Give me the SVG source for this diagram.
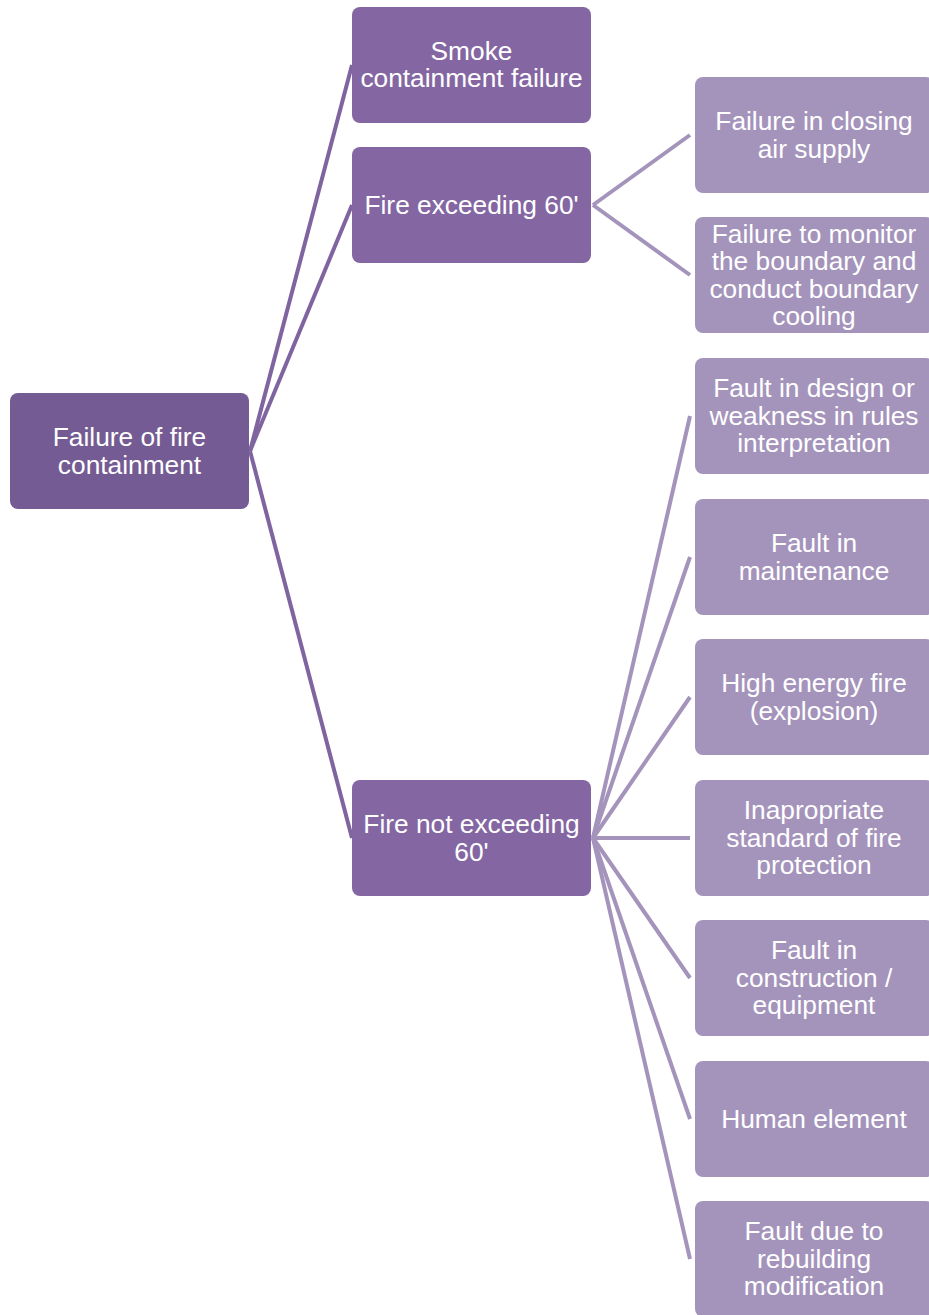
<svg xmlns="http://www.w3.org/2000/svg" width="929" height="1315" viewBox="0 0 929 1315">
<style>
.root{fill:#745B93}
.mid{fill:#8467A2}
.leaf{fill:#A494BB}
.c1{stroke:#7F64A0;stroke-width:4;fill:none;stroke-linecap:butt}
.c2{stroke:#A494BB;stroke-width:4;fill:none;stroke-linecap:butt}
text{font-family:"Liberation Sans",Arial,sans-serif;font-size:26.3px;fill:#ffffff;text-anchor:middle}
</style>
<rect width="929" height="1315" fill="#ffffff"/>
<g id="connectors">
<line class="c1" x1="250" y1="451" x2="352" y2="65"/>
<line class="c1" x1="250" y1="451" x2="352" y2="205"/>
<line class="c1" x1="250" y1="451" x2="352" y2="838"/>
<line class="c2" x1="593" y1="205" x2="690" y2="135"/>
<line class="c2" x1="593" y1="205" x2="690" y2="275"/>
<line class="c2" x1="593" y1="838" x2="690" y2="416"/>
<line class="c2" x1="593" y1="838" x2="690" y2="557"/>
<line class="c2" x1="593" y1="838" x2="690" y2="697"/>
<line class="c2" x1="593" y1="838" x2="690" y2="838"/>
<line class="c2" x1="593" y1="838" x2="690" y2="978"/>
<line class="c2" x1="593" y1="838" x2="690" y2="1119"/>
<line class="c2" x1="593" y1="838" x2="690" y2="1259"/>
</g>
<g id="n-root">
<rect class="root" x="10" y="393" width="239" height="116" rx="8"/>
<text x="129.5" y="446">Failure of fire</text>
<text x="129.5" y="473.5">containment</text>
</g>
<g id="n-smoke">
<rect class="mid" x="352" y="7" width="239" height="116" rx="8"/>
<text x="471.5" y="59.5">Smoke</text>
<text x="471.5" y="87">containment failure</text>
</g>
<g id="n-fire-exceeding">
<rect class="mid" x="352" y="147" width="239" height="116" rx="8"/>
<text x="471.5" y="213.5">Fire exceeding 60'</text>
</g>
<g id="n-fire-not-exceeding">
<rect class="mid" x="352" y="780" width="239" height="116" rx="8"/>
<text x="471.5" y="833">Fire not exceeding</text>
<text x="471.5" y="860.5">60'</text>
</g>
<g id="n-closing-air">
<rect class="leaf" x="695" y="77" width="239" height="116" rx="8"/>
<text x="814" y="130">Failure in closing</text>
<text x="814" y="157.5">air supply</text>
</g>
<g id="n-monitor">
<rect class="leaf" x="695" y="217" width="239" height="116" rx="8"/>
<text x="814" y="242.5">Failure to monitor</text>
<text x="814" y="270">the boundary and</text>
<text x="814" y="297.5">conduct boundary</text>
<text x="814" y="325">cooling</text>
</g>
<g id="n-design">
<rect class="leaf" x="695" y="358" width="239" height="116" rx="8"/>
<text x="814" y="397">Fault in design or</text>
<text x="814" y="424.5">weakness in rules</text>
<text x="814" y="452">interpretation</text>
</g>
<g id="n-maintenance">
<rect class="leaf" x="695" y="499" width="239" height="116" rx="8"/>
<text x="814" y="552">Fault in</text>
<text x="814" y="579.5">maintenance</text>
</g>
<g id="n-high-energy">
<rect class="leaf" x="695" y="639" width="239" height="116" rx="8"/>
<text x="814" y="692">High energy fire</text>
<text x="814" y="719.5">(explosion)</text>
</g>
<g id="n-standard">
<rect class="leaf" x="695" y="780" width="239" height="116" rx="8"/>
<text x="814" y="819">Inapropriate</text>
<text x="814" y="846.5">standard of fire</text>
<text x="814" y="874">protection</text>
</g>
<g id="n-construction">
<rect class="leaf" x="695" y="920" width="239" height="116" rx="8"/>
<text x="814" y="959">Fault in</text>
<text x="814" y="986.5">construction /</text>
<text x="814" y="1014">equipment</text>
</g>
<g id="n-human">
<rect class="leaf" x="695" y="1061" width="239" height="116" rx="8"/>
<text x="814" y="1127.5">Human element</text>
</g>
<g id="n-rebuilding">
<rect class="leaf" x="695" y="1201" width="239" height="116" rx="8"/>
<text x="814" y="1240">Fault due to</text>
<text x="814" y="1267.5">rebuilding</text>
<text x="814" y="1295">modification</text>
</g>
</svg>
